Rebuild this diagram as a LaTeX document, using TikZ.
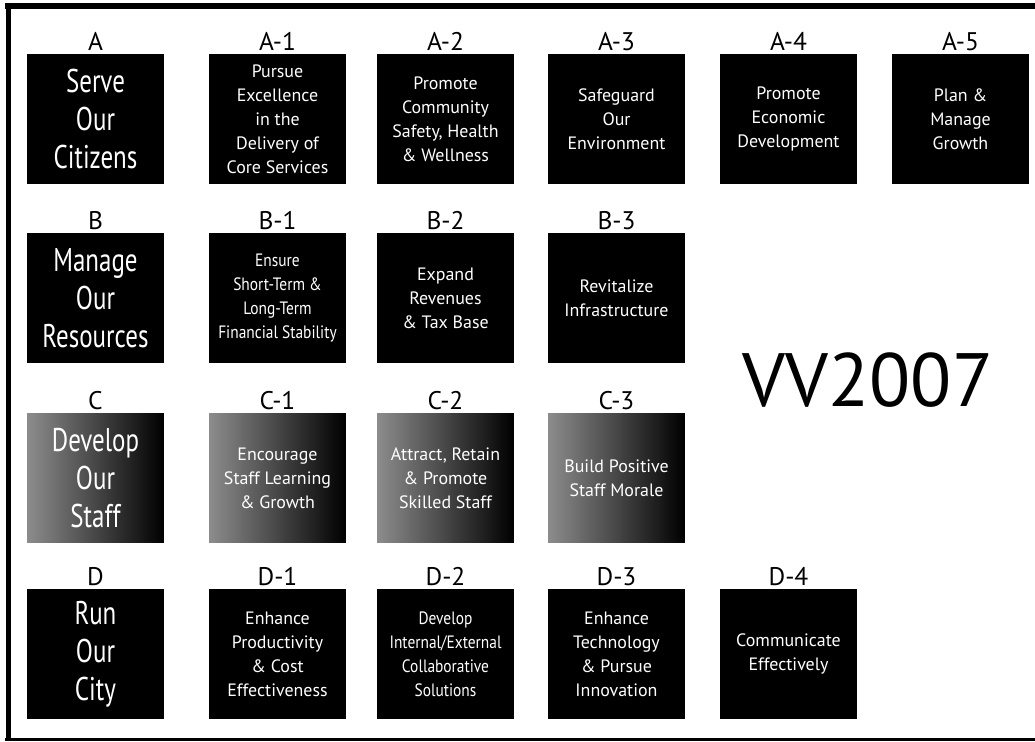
\documentclass[tikz,border=0pt]{standalone}
\usepackage{fontspec}
\setmainfont{PT Sans}
\newfontfamily\boxfont[FakeStretch=0.76]{PT Sans}
\newfontfamily\narrowfont[FakeStretch=0.86]{PT Sans}
\usetikzlibrary{positioning}
\tikzset{
	goal/.style={fill=black,text=white,minimum width=2.74cm,minimum height=2.6cm,inner sep=0pt,align=center,font=\boxfont\fontsize{18.7}{21.5}\selectfont},
	objective/.style={goal,font=\fontsize{10.2}{13.7}\selectfont},
	narrow/.style={font=\narrowfont\fontsize{10.2}{13.7}\selectfont},
	staff/.style={left color=black!45,middle color=black!75,right color=black},
	tag/.style={inner sep=0pt,font=\fontsize{14.5}{14.5}\selectfont},
}
\begin{document}
\begin{tikzpicture}[x=0.02cm,y=-0.02cm]
	\useasboundingbox (0,0) rectangle (1035,742);
	% frame
	\draw[line width=0.12cm] (8.5,3) -- (8.5,741);
	\draw[line width=0.12cm] (5,6) -- (1035,6);
	\draw[line width=0.06cm] (5,739.5) -- (1035,739.5);
	% row A
	\node[goal] (A) at (95.5,119) {Serve\\Our\\Citizens};
	\node[objective] (A1) at (277.5,119) {Pursue\\Excellence\\in the\\Delivery of\\Core Services};
	\node[objective] (A2) at (445.5,119) {Promote\\Community\\Safety, Health\\\& Wellness};
	\node[objective] (A3) at (616.5,119) {Safeguard\\Our\\Environment};
	\node[objective] (A4) at (788.5,119) {Promote\\Economic\\Development};
	\node[objective] (A5) at (960.5,119) {Plan \&\\Manage\\Growth};
	% row B
	\node[goal] (B) at (95.5,298) {Manage\\Our\\Resources};
	\node[objective,narrow] (B1) at (277.5,298) {Ensure\\Short-Term \&\\Long-Term\\Financial Stability};
	\node[objective] (B2) at (445.5,298) {Expand\\Revenues\\\& Tax Base};
	\node[objective] (B3) at (616.5,298) {Revitalize\\Infrastructure};
	% row C
	\node[goal,staff] (C) at (95.5,478) {Develop\\Our\\Staff};
	\node[objective,staff] (C1) at (277.5,478) {Encourage\\Staff Learning\\\& Growth};
	\node[objective,staff] (C2) at (445.5,478) {Attract, Retain\\\& Promote\\Skilled Staff};
	\node[objective,staff] (C3) at (616.5,478) {Build Positive\\Staff Morale};
	% row D
	\node[goal] (D) at (95.5,654) {Run\\Our\\City};
	\node[objective] (D1) at (277.5,654) {Enhance\\Productivity\\\& Cost\\Effectiveness};
	\node[objective,narrow] (D2) at (445.5,654) {Develop\\Internal/External\\Collaborative\\Solutions};
	\node[objective] (D3) at (616.5,654) {Enhance\\Technology\\\& Pursue\\Innovation};
	\node[objective] (D4) at (788.5,654) {Communicate\\Effectively};
	% tags
	\node[tag,above=1.5pt of A] (A-tag) {A};
	\node[tag,above=1.5pt of A1] (A1-tag) {A-1};
	\node[tag,above=1.5pt of A2] (A2-tag) {A-2};
	\node[tag,above=1.5pt of A3] (A3-tag) {A-3};
	\node[tag,above=1.5pt of A4] (A4-tag) {A-4};
	\node[tag,above=1.5pt of A5] (A5-tag) {A-5};
	\node[tag,above=1.5pt of B] (B-tag) {B};
	\node[tag,above=1.5pt of B1] (B1-tag) {B-1};
	\node[tag,above=1.5pt of B2] (B2-tag) {B-2};
	\node[tag,above=1.5pt of B3] (B3-tag) {B-3};
	\node[tag,above=1.5pt of C] (C-tag) {C};
	\node[tag,above=1.5pt of C1] (C1-tag) {C-1};
	\node[tag,above=1.5pt of C2] (C2-tag) {C-2};
	\node[tag,above=1.5pt of C3] (C3-tag) {C-3};
	\node[tag,above=1.5pt of D] (D-tag) {D};
	\node[tag,above=1.5pt of D1] (D1-tag) {D-1};
	\node[tag,above=1.5pt of D2] (D2-tag) {D-2};
	\node[tag,above=1.5pt of D3] (D3-tag) {D-3};
	\node[tag,above=1.5pt of D4] (D4-tag) {D-4};
	% title
	\node[inner sep=0pt,font=\fontsize{43}{43}\selectfont] (vv) at (868,380) {VV2007};
\end{tikzpicture}
\end{document}
